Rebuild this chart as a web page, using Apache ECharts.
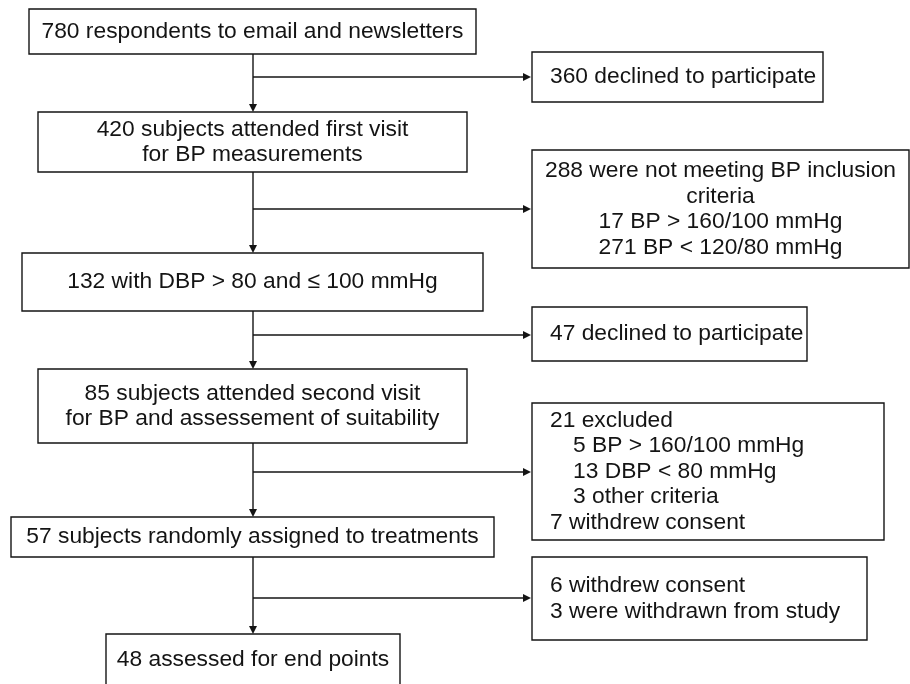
<!DOCTYPE html>
<html>
<head>
<meta charset="utf-8">
<script src="https://cdn.jsdelivr.net/npm/echarts@6/dist/echarts.min.js"></script>
<style>
html, body { margin: 0; padding: 0; background: #fff; }
#chart { width: 910px; height: 684px; }
</style>
</head>
<body>
<div id="chart"></div>
<script>
// main column of the flow, top to bottom
const mainStages = [
  ['780 respondents to email and newsletters'],
  ['420 subjects attended first visit', 'for BP measurements'],
  ['132 with DBP > 80 and \u2264 100 mmHg'],
  ['85 subjects attended second visit', 'for BP and assessement of suitability'],
  ['57 subjects randomly assigned to treatments'],
  ['48 assessed for end points'],
];
// boxes branching off to the right (leading spaces = indented line)
const sideStages = [
  ['360 declined to participate'],
  ['288 were not meeting BP inclusion', 'criteria', '17 BP > 160/100 mmHg', '271 BP < 120/80 mmHg'],
  ['47 declined to participate'],
  ['21 excluded', '  5 BP > 160/100 mmHg', '  13 DBP < 80 mmHg', '  3 other criteria', '7 withdrew consent'],
  ['6 withdrew consent', '3 were withdrawn from study'],
];

// layout, in the units of the hidden axes (x0, y0, x1, y1)
const mainFrames = [[29, 9, 476, 54], [38, 112, 467, 172], [22, 253, 483, 311], [38, 369, 467, 443], [11, 517, 494, 557], [106, 634, 400, 700]];
const sideFrames = [[532, 52, 823, 102], [532, 150, 909, 268], [532, 307, 807, 361], [532, 403, 884, 540], [532, 557, 867, 640]];
const sideAlign = ['left', 'center', 'left', 'left', 'left'];
const branchY = [77, 209, 335, 472, 598];
const trunkX = 253;
const sideX = 532;

const FONT = '22.8px "Liberation Sans", Arial, sans-serif';
const INK = '#141414';
const LINE_H = 25.5;

const boxes = [];
mainFrames.forEach((f, i) => boxes.push({ value: f, lines: mainStages[i], align: 'center' }));
sideFrames.forEach((f, i) => boxes.push({ value: f, lines: sideStages[i], align: sideAlign[i] }));

const links = [];
for (let i = 0; i < mainFrames.length - 1; i++) {
  links.push({ value: [trunkX, mainFrames[i][3], trunkX, mainFrames[i + 1][1]] });
}
branchY.forEach((y) => links.push({ value: [trunkX, y, sideX - 1, y] }));

const renderBox = (params, api) => {
  const item = boxes[params.dataIndex];
  const p0 = api.coord([api.value(0), api.value(1)]);
  const p1 = api.coord([api.value(2), api.value(3)]);
  const children = [{
    type: 'rect',
    shape: { x: p0[0], y: p0[1], width: p1[0] - p0[0], height: p1[1] - p0[1] },
    style: { fill: '#fff', stroke: INK, lineWidth: 1.4 },
  }];
  const n = item.lines.length;
  // visible part of the box (last one runs off the bottom)
  const bottom = Math.min(p1[1], p0[1] + 52);
  const cy = item.value[3] > 684 ? (p0[1] + bottom) / 2 : (p0[1] + p1[1]) / 2;
  item.lines.forEach((line, k) => {
    const indent = /^\s/.test(line) ? 23 : 0;
    const x = item.align === 'center' ? (p0[0] + p1[0]) / 2 : p0[0] + 18 + indent;
    children.push({
      type: 'text',
      x,
      y: cy + (k - (n - 1) / 2) * LINE_H,
      style: {
        text: line.trim(),
        font: FONT,
        fill: INK,
        align: item.align === 'center' ? 'center' : 'left',
        verticalAlign: 'middle',
      },
    });
  });
  return { type: 'group', children };
};

const renderLink = (params, api) => {
  const a = api.coord([api.value(0), api.value(1)]);
  const b = api.coord([api.value(2), api.value(3)]);
  const dx = b[0] - a[0];
  const dy = b[1] - a[1];
  const len = Math.sqrt(dx * dx + dy * dy);
  const ux = dx / len;
  const uy = dy / len;
  const head = 8;
  const half = 4;
  const base = [b[0] - ux * head, b[1] - uy * head];
  return {
    type: 'group',
    children: [
      {
        type: 'line',
        shape: { x1: a[0], y1: a[1], x2: base[0], y2: base[1] },
        style: { stroke: INK, lineWidth: 1.4 },
      },
      {
        type: 'polygon',
        shape: { points: [b, [base[0] - uy * half, base[1] + ux * half], [base[0] + uy * half, base[1] - ux * half]] },
        style: { fill: INK },
      },
    ],
  };
};

const chart = echarts.init(document.getElementById('chart'));
chart.setOption({
  animation: false,
  grid: { left: 0, right: 0, top: 0, bottom: 0 },
  xAxis: { type: 'value', min: 0, max: 910, show: false },
  yAxis: { type: 'value', min: 0, max: 684, inverse: true, show: false },
  series: [
    {
      type: 'custom',
      name: 'links',
      coordinateSystem: 'cartesian2d',
      renderItem: renderLink,
      data: links,
      silent: true,
    },
    {
      type: 'custom',
      name: 'boxes',
      coordinateSystem: 'cartesian2d',
      renderItem: renderBox,
      data: boxes.map((b) => b.value),
      silent: true,
      clip: true,
    },
  ],
});
</script>
</body>
</html>
